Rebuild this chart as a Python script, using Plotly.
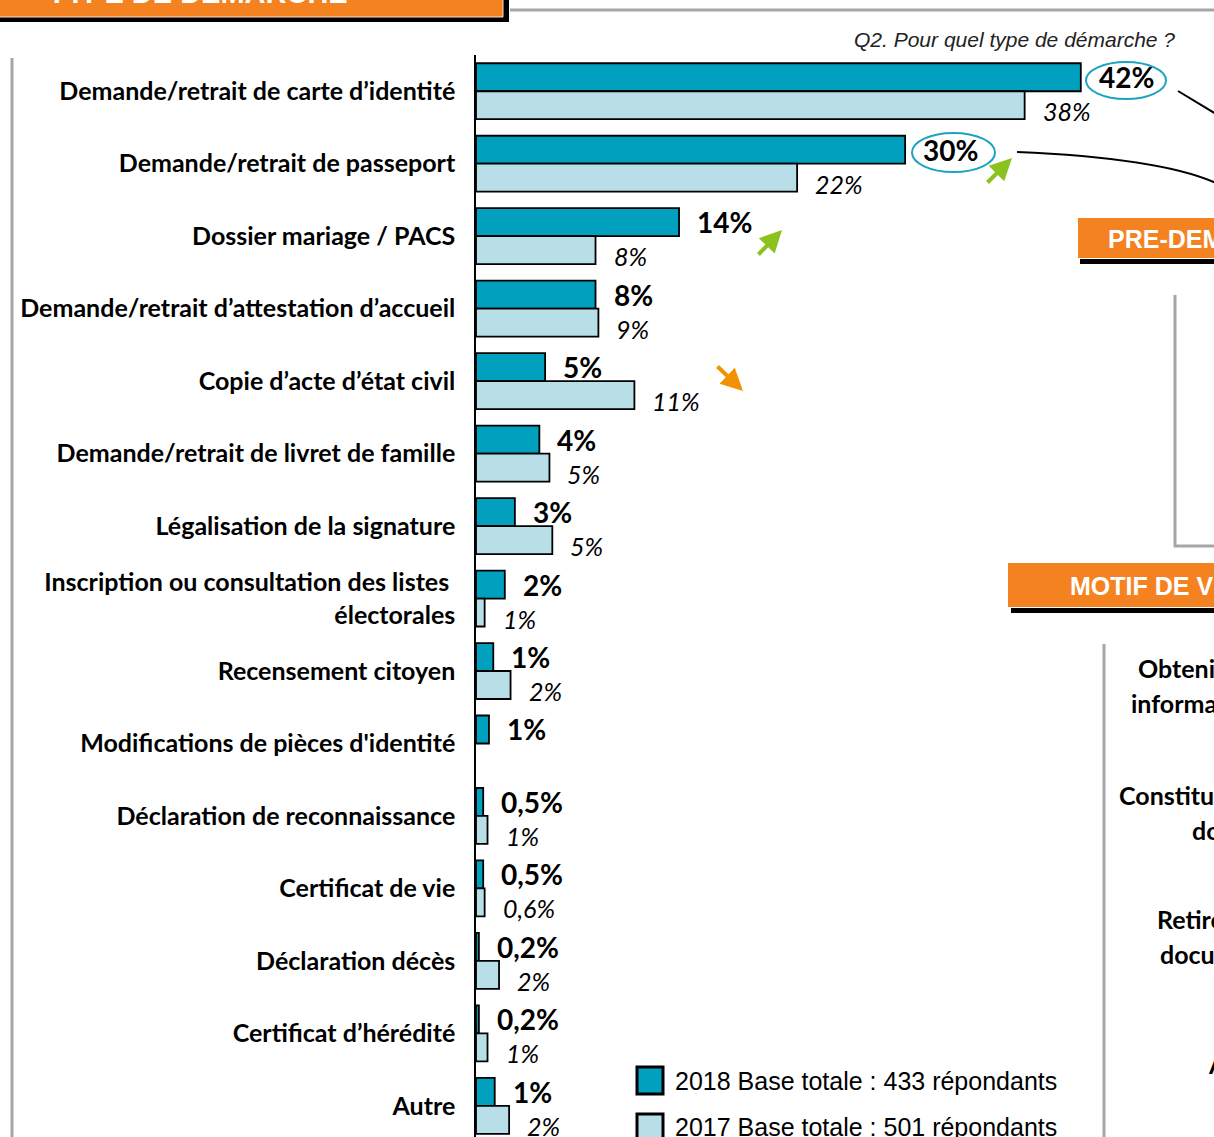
import plotly.graph_objects as go

categories = [
    "Demande/retrait de carte d’identité",
    "Demande/retrait de passeport",
    "Dossier mariage / PACS",
    "Demande/retrait d’attestation d’accueil",
    "Copie d’acte d’état civil",
    "Demande/retrait de livret de famille",
    "Légalisation de la signature",
    "Inscription ou consultation des listes <br>électorales",
    "Recensement citoyen",
    "Modifications de pièces d'identité",
    "Déclaration de reconnaissance",
    "Certificat de vie",
    "Déclaration décès",
    "Certificat d’hérédité",
    "Autre",
]
values_2018 = [42.0, 29.8, 14.1, 8.3, 4.8, 4.4, 2.7, 2.0, 1.2, 0.9, 0.5, 0.5, 0.2, 0.2, 1.3]
values_2017 = [38.1, 22.3, 8.3, 8.5, 11.0, 5.1, 5.3, 0.6, 2.4, None, 0.8, 0.6, 1.6, 0.8, 2.3]
labels_2018 = ["42%", "30%", "14%", "8%", "5%", "4%", "3%", "2%", "1%", "1%",
               "0,5%", "0,5%", "0,2%", "0,2%", "1%"]
labels_2017 = ["38%", "22%", "8%", "9%", "11%", "5%", "5%", "1%", "2%", "",
               "1%", "0,6%", "2%", "1%", "2%"]
series_names = ["2018 Base totale : 433 répondants", "2017 Base totale : 501 répondants"]
series_colors = ["#00A0BE", "#B8DEE8"]

W, H = 1214, 1137
ML, MT = 476, 55
PW, PH = W - ML, H - MT
PX_PER_PCT = 14.4


def px(x):
    return (x - ML) / PW


def py(y):
    return 1 - (y - MT) / PH


fig = go.Figure()
for name, vals, col in zip(series_names, [values_2018, values_2017], series_colors):
    fig.add_trace(go.Bar(
        y=categories, x=vals, orientation="h", name=name,
        marker=dict(color=col, line=dict(color="black", width=1.8)),
        showlegend=False,
    ))

annotations = []
# value labels
for cat, v, t in zip(categories, values_2018, labels_2018):
    annotations.append(dict(x=v, y=cat, xref="x", yref="y", text=t, showarrow=False,
                            xanchor="left", yanchor="middle", xshift=16, yshift=14,
                            font=dict(family="Lato", size=28, color="black", weight="bold")))
for cat, v, t in zip(categories, values_2017, labels_2017):
    if not t:
        continue
    annotations.append(dict(x=v, y=cat, xref="x", yref="y", text=t, showarrow=False,
                            xanchor="left", yanchor="middle", xshift=16, yshift=-20,
                            font=dict(family="Lato", size=25, color="black", style="italic")))

# question text
annotations.append(dict(x=px(1177), y=py(40), xref="paper", yref="paper",
                        text="Q2. Pour quel type de démarche ?", showarrow=False,
                        xanchor="right", yanchor="middle",
                        font=dict(family="Liberation Sans", size=21, color="#222", style="italic")))

# header title (cropped at top)
annotations.append(dict(x=px(46), y=py(11), xref="paper", yref="paper",
                        text="TYPE DE DÉMARCHE", showarrow=False,
                        xanchor="left", yanchor="bottom",
                        font=dict(family="Liberation Sans", size=29, color="white", weight="bold")))
annotations.append(dict(x=px(1106), y=py(239), xref="paper", yref="paper",
                        text="PRE-DEMARCHE", showarrow=False, xanchor="left", yanchor="middle",
                        font=dict(family="Liberation Sans", size=25, color="white", weight="bold")))
annotations.append(dict(x=px(1068), y=py(586), xref="paper", yref="paper",
                        text="MOTIF DE VISITE", showarrow=False, xanchor="left", yanchor="middle",
                        font=dict(family="Liberation Sans", size=25, color="white", weight="bold")))

# cropped right-hand labels
side_texts = [("Obtenir une", 1136, 668), ("information", 1129, 703),
              ("Constituer son", 1117, 795), ("dossier", 1190, 830),
              ("Retirer un", 1155, 919), ("document", 1158, 954), ("Autre", 1206, 1064)]
for t, x0, y0 in side_texts:
    annotations.append(dict(x=px(x0), y=py(y0), xref="paper", yref="paper", text=t,
                            showarrow=False, xanchor="left", yanchor="middle",
                            font=dict(family="Lato", size=25, color="black", weight="bold")))

# legend text
for name, y0 in zip(series_names, [1081, 1127]):
    annotations.append(dict(x=px(673), y=py(y0), xref="paper", yref="paper", text=name,
                            showarrow=False, xanchor="left", yanchor="middle",
                            font=dict(family="Liberation Sans", size=25, color="black")))

# trend arrows
arrows = [((1012, 158), (986, 184), "#8CC21E"),
          ((782, 230), (757, 256), "#8CC21E"),
          ((743, 391), (716, 365), "#F39200")]
for (hx, hy), (tx, ty), col in arrows:
    annotations.append(dict(x=px(hx), y=py(hy), xref="paper", yref="paper", text="",
                            showarrow=True, ax=tx - hx, ay=ty - hy, axref="pixel", ayref="pixel",
                            arrowhead=2, arrowsize=1.1, arrowwidth=4, arrowcolor=col))

shapes = []
orange = "#F58220"
grey = "#A6A6A6"
# header box
shapes.append(dict(type="rect", xref="paper", yref="paper", x0=px(0), x1=px(509), y0=py(-5), y1=py(22),
                   fillcolor="black", line=dict(width=0)))
shapes.append(dict(type="rect", xref="paper", yref="paper", x0=px(-2), x1=px(503), y0=py(-5), y1=py(17),
                   fillcolor=orange, line=dict(color="#FBE3CC", width=1)))
shapes.append(dict(type="line", xref="paper", yref="paper", x0=px(510), x1=px(1216), y0=py(10), y1=py(10),
                   line=dict(color=grey, width=3)))
# left grey line
shapes.append(dict(type="line", xref="paper", yref="paper", x0=px(12), x1=px(12), y0=py(58), y1=py(1140),
                   line=dict(color=grey, width=3)))
# PRE-DEMARCHE box
shapes.append(dict(type="rect", xref="paper", yref="paper", x0=px(1080), x1=px(1216), y0=py(259), y1=py(264),
                   fillcolor="black", line=dict(width=0)))
shapes.append(dict(type="rect", xref="paper", yref="paper", x0=px(1078), x1=px(1216), y0=py(218), y1=py(258),
                   fillcolor=orange, line=dict(width=0)))
shapes.append(dict(type="path", xref="paper", yref="paper",
                   path=f"M {px(1175)},{py(295)} L {px(1175)},{py(546)} L {px(1216)},{py(546)}",
                   line=dict(color=grey, width=3)))
# MOTIF box
shapes.append(dict(type="rect", xref="paper", yref="paper", x0=px(1011), x1=px(1216), y0=py(608), y1=py(613),
                   fillcolor="black", line=dict(width=0)))
shapes.append(dict(type="rect", xref="paper", yref="paper", x0=px(1008), x1=px(1216), y0=py(563), y1=py(607),
                   fillcolor=orange, line=dict(width=0)))
shapes.append(dict(type="line", xref="paper", yref="paper", x0=px(1104), x1=px(1104), y0=py(644), y1=py(1140),
                   line=dict(color=grey, width=3)))
# callout ellipses
teal = "#1AA3C2"
shapes.append(dict(type="circle", xref="paper", yref="paper", x0=px(1086), x1=px(1166), y0=py(62), y1=py(99),
                   line=dict(color=teal, width=2)))
shapes.append(dict(type="circle", xref="paper", yref="paper", x0=px(912), x1=px(995), y0=py(133), y1=py(172),
                   line=dict(color=teal, width=2)))
# connector curves
shapes.append(dict(type="path", xref="paper", yref="paper",
                   path=f"M {px(1178)},{py(91)} L {px(1216)},{py(114)}",
                   line=dict(color="black", width=2)))
shapes.append(dict(type="path", xref="paper", yref="paper",
                   path=f"M {px(1017)},{py(152)} Q {px(1160)},{py(158)} {px(1216)},{py(183)}",
                   line=dict(color="black", width=2)))
# legend squares
for col, y0 in zip(series_colors, [1067, 1114]):
    shapes.append(dict(type="rect", xref="paper", yref="paper", x0=px(637), x1=px(663), y0=py(y0), y1=py(y0 + 27),
                       fillcolor=col, line=dict(color="black", width=3)))

fig.update_layout(
    width=W, height=H,
    margin=dict(l=ML, r=0, t=MT, b=0, pad=0),
    paper_bgcolor="white", plot_bgcolor="white",
    barmode="group", bargap=0.228, bargroupgap=0,
    xaxis=dict(range=[0, PW / PX_PER_PCT], visible=False, fixedrange=True),
    yaxis=dict(type="category", categoryorder="array", categoryarray=categories,
               range=[14.43, -0.5], showline=True, linecolor="black", linewidth=1.5,
               ticks="", showgrid=False, zeroline=False, ticklabelstandoff=14,
               tickfont=dict(family="Lato", size=25, color="black", weight="bold")),
    annotations=annotations, shapes=shapes,
    font=dict(family="Lato"),
)

fig.write_html("out.html", config={"displayModeBar": False},
               post_script="document.body.style.margin='0px';document.body.style.overflow='hidden';")
